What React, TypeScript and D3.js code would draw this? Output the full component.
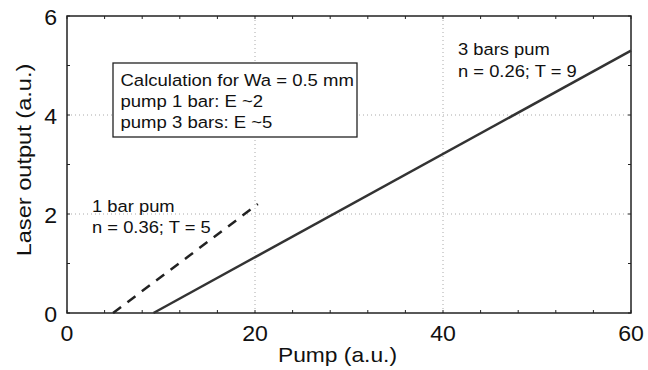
import React from "react";
import * as d3 from "d3";

const bar1X = [4.9, 20.3];
const bar1Y = [0, 2.2];
const bar3X = [9.2, 60];
const bar3Y = [0, 5.3];
const xTicks = [0, 20, 40, 60];
const yTicks = [0, 2, 4, 6];
const boxLines = ["Calculation for Wa = 0.5 mm", "pump 1 bar: E ~2", "pump 3 bars: E ~5"];
const label3 = ["3 bars pum", "n = 0.26; T = 9"];
const label1 = ["1 bar pum", "n = 0.36; T = 5"];

const W = 648, H = 370;
const L = 67, R = 631, T = 16, B = 313;
const font = "Liberation Sans, Arial, Helvetica, sans-serif";

function SText({ x, y, sx = 1, size, anchor = "start", rotate = 0, children }: any) {
  return (
    <text
      transform={`translate(${x},${y}) rotate(${rotate}) scale(${sx},1)`}
      textAnchor={anchor}
      fontFamily={font}
      fontSize={size}
      fill="#111"
    >
      {children}
    </text>
  );
}

export default function App() {
  const x = d3.scaleLinear().domain([0, 60]).range([L, R]);
  const y = d3.scaleLinear().domain([0, 6]).range([B, T]);
  const line = d3.line<[number, number]>().x(d => x(d[0])).y(d => y(d[1]));
  const d1 = line(bar1X.map((v, i) => [v, bar1Y[i]] as [number, number]))!;
  const d3p = line(bar3X.map((v, i) => [v, bar3Y[i]] as [number, number]))!;
  const xMinor = d3.range(0, 61, 4);
  const yMinor = d3.range(0, 7, 1);
  return (
    <svg width={W} height={H} style={{ position: "absolute", left: 0, top: 0, background: "#fff" }}>
      <rect width={W} height={H} fill="#fff" />
      {xTicks.filter(t => t > 0 && t < 60).map(t => (
        <line key={"gx" + t} x1={x(t)} x2={x(t)} y1={T} y2={B} stroke="#aaa" strokeWidth={1} strokeDasharray="1,3" />
      ))}
      {yTicks.filter(t => t > 0 && t < 6).map(t => (
        <line key={"gy" + t} x1={L} x2={R} y1={y(t)} y2={y(t)} stroke="#aaa" strokeWidth={1} strokeDasharray="1,3" />
      ))}
      {xMinor.map(t => (
        <g key={"xm" + t}>
          <line x1={x(t)} x2={x(t)} y1={B} y2={B - 3} stroke="#222" />
          <line x1={x(t)} x2={x(t)} y1={T} y2={T + 3} stroke="#222" />
        </g>
      ))}
      {yMinor.map(t => (
        <g key={"ym" + t}>
          <line x1={L} x2={L + 3} y1={y(t)} y2={y(t)} stroke="#222" />
          <line x1={R} x2={R - 3} y1={y(t)} y2={y(t)} stroke="#222" />
        </g>
      ))}
      <rect x={L} y={T} width={R - L} height={B - T} fill="none" stroke="#222" strokeWidth={1.5} />
      <path d={d3p} fill="none" stroke="#333" strokeWidth={2.5} />
      <path d={d1} fill="none" stroke="#222" strokeWidth={2.5} strokeDasharray="10,8" />
      {xTicks.map(t => (
        <SText key={"xt" + t} x={x(t)} y={341} size={22} sx={1.05} anchor="middle">{t}</SText>
      ))}
      {yTicks.map(t => (
        <SText key={"yt" + t} x={57} y={y(t) + 8.5} size={22} sx={1.05} anchor="end">{t}</SText>
      ))}
      <SText x={337.5} y={362} size={20} sx={1.14} anchor="middle">Pump (a.u.)</SText>
      <SText x={31} y={160} size={20} sx={1.18} anchor="middle" rotate={-90}>Laser output (a.u.)</SText>
      <rect x={113} y={63} width={244} height={74} fill="#fff" stroke="#222" strokeWidth={1.3} />
      {boxLines.map((s, i) => (
        <SText key={"b" + i} x={120.5} y={86 + i * 21} size={17} sx={1.09}>{s}</SText>
      ))}
      {label3.map((s, i) => (
        <SText key={"l3" + i} x={458} y={55 + i * 22} size={17} sx={1.08}>{s}</SText>
      ))}
      {label1.map((s, i) => (
        <SText key={"l1" + i} x={92} y={212 + i * 21} size={17} sx={1.08}>{s}</SText>
      ))}
    </svg>
  );
}
